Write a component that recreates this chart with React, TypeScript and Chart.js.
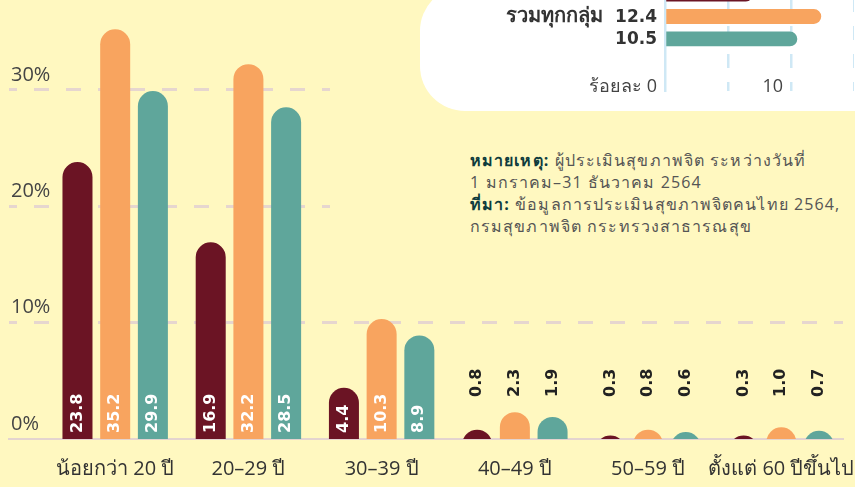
import { useEffect, useRef } from 'react';
import { Chart, registerables } from 'chart.js';

Chart.register(...registerables);

// ---------- data ----------
const categories = ['น้อยกว่า 20 ปี', '20–29 ปี', '30–39 ปี', '40–49 ปี', '50–59 ปี', 'ตั้งแต่ 60 ปีขึ้นไป'];
const maroonValues = [23.8, 16.9, 4.4, 0.8, 0.3, 0.3];
const orangeValues = [35.2, 32.2, 10.3, 2.3, 0.8, 1.0];
const tealValues = [29.9, 28.5, 8.9, 1.9, 0.6, 0.7];
const yTickValues = [0, 10, 20, 30];

const summaryLabel = 'รวมทุกกลุ่ม';
const summaryValues = [7.0, 12.4, 10.5];
const summaryTickValues = [0, 5, 10, 15];
const summaryTickLabels: Record<number, string> = { 0: 'ร้อยละ 0', 10: '10' };

// ---------- style ----------
const BG = '#fff8c0';
const MAROON = '#6b1424';
const ORANGE = '#f8a45f';
const TEAL = '#5fa69b';
const FAMILY = "'Open Sans', 'Noto Sans', sans-serif";
const LABEL_FAMILY = "'DejaVu Sans', 'Noto Sans', sans-serif";

const barLabelPlugin = {
  id: 'barLabels',
  afterDatasetsDraw(chart: any) {
    const ctx = chart.ctx;
    const zero = chart.scales.y.getPixelForValue(0);
    ctx.save();
    ctx.font = `bold 16px ${LABEL_FAMILY}`;
    ctx.textAlign = 'left';
    ctx.textBaseline = 'middle';
    chart.data.datasets.forEach((ds: any, di: number) => {
      const meta = chart.getDatasetMeta(di);
      meta.data.forEach((bar: any, i: number) => {
        const v = ds.data[i].y as number;
        const inside = v >= 4;
        const start = inside ? zero - 6 : zero - 42;
        ctx.save();
        ctx.translate(bar.x, start);
        ctx.rotate(-Math.PI / 2);
        ctx.fillStyle = inside ? '#ffffff' : '#222222';
        ctx.fillText(v.toFixed(1), 0, 0);
        ctx.restore();
      });
    });
    ctx.restore();
  },
};

const summaryValuePlugin = {
  id: 'summaryValues',
  afterDatasetsDraw(chart: any) {
    const ctx = chart.ctx;
    const left = chart.chartArea.left;
    ctx.save();
    ctx.font = `bold 17px ${LABEL_FAMILY}`;
    ctx.textAlign = 'right';
    ctx.textBaseline = 'middle';
    ctx.fillStyle = '#333333';
    chart.data.datasets.forEach((ds: any, di: number) => {
      const meta = chart.getDatasetMeta(di);
      meta.data.forEach((bar: any, i: number) => {
        ctx.fillText((ds.data[i] as number).toFixed(1), left - 8, bar.y + 1);
      });
    });
    ctx.restore();
  },
};

function MainChart() {
  const ref = useRef<HTMLCanvasElement>(null);
  useEffect(() => {
    if (!ref.current) return;
    const mk = (label: string, values: number[], color: string) => ({
      label,
      data: values.map((v, i) => ({ x: i, y: v })),
      backgroundColor: color,
      borderRadius: 15,
      borderSkipped: 'start',
      base: -3,
      clip: 0,
      categoryPercentage: 0.849,
      barPercentage: 0.796,
    });
    const chart = new Chart(ref.current, {
      type: 'bar',
      data: {
        datasets: [
          mk('กลุ่ม 1', maroonValues, MAROON),
          mk('กลุ่ม 2', orangeValues, ORANGE),
          mk('กลุ่ม 3', tealValues, TEAL),
        ] as any,
      },
      options: {
        responsive: false,
        animation: false,
        layout: { padding: { left: 9, right: 57, top: 20, bottom: 0 } },
        plugins: { legend: { display: false }, tooltip: { enabled: false } },
        scales: {
          x: {
            type: 'linear',
            offset: false,
            min: -0.797,
            max: 5.463,
            afterBuildTicks: (s: any) => {
              s.ticks = categories.map((_, i) => ({ value: i }));
            },
            afterFit: (s: any) => {
              s.height = 48;
            },
            grid: { display: false, offset: false },
            border: { display: true, color: '#e4d4cf', width: 2 },
            ticks: {
              autoSkip: false,
              maxRotation: 0,
              minRotation: 0,
              padding: 10,
              color: '#333333',
              font: { family: FAMILY, size: 20 },
              callback: (v: any) => categories[v] ?? '',
            },
          },
          y: {
            min: 0,
            max: 36,
            afterBuildTicks: (s: any) => {
              s.ticks = yTickValues.map((v) => ({ value: v }));
            },
            afterFit: (s: any) => {
              s.width = 0;
            },
            grid: {
              color: (c: any) => (c.tick && c.tick.value === 0 ? 'rgba(0,0,0,0)' : '#e6d6cf'),
              lineWidth: 3,
              drawTicks: false,
            },
            border: { display: false, dash: [15, 17], dashOffset: 7 },
            ticks: {
              mirror: true,
              padding: 2,
              labelOffset: -15,
              color: '#444444',
              font: { family: FAMILY, size: 20 },
              callback: (v: any) => `${v}%`,
            },
          },
        },
      } as any,
      plugins: [barLabelPlugin],
    });
    return () => chart.destroy();
  }, []);
  return (
    <canvas
      ref={ref}
      width={900}
      height={487}
      style={{ position: 'absolute', left: 0, top: 0, width: 900, height: 487 }}
    />
  );
}

function SummaryChart() {
  const ref = useRef<HTMLCanvasElement>(null);
  useEffect(() => {
    if (!ref.current) return;
    const colors = [MAROON, ORANGE, TEAL];
    const chart = new Chart(ref.current, {
      type: 'bar',
      data: {
        labels: [summaryLabel],
        datasets: summaryValues.map((v, i) => ({
          label: `กลุ่ม ${i + 1}`,
          data: [v],
          backgroundColor: colors[i],
          borderRadius: 8,
          borderSkipped: 'start',
          categoryPercentage: 0.452,
          barPercentage: 0.659,
        })) as any,
      },
      options: {
        indexAxis: 'y',
        responsive: false,
        animation: false,
        layout: { padding: { top: 22, bottom: 2, left: 0, right: 0 } },
        plugins: { legend: { display: false }, tooltip: { enabled: false } },
        scales: {
          x: {
            min: 0,
            max: 15,
            afterBuildTicks: (s: any) => {
              s.ticks = summaryTickValues.map((v) => ({ value: v }));
            },
            afterFit: (s: any) => {
              s.height = 10;
            },
            grid: {
              color: (c: any) => (c.tick && c.tick.value === 0 ? 'rgba(0,0,0,0)' : '#cfe8f5'),
              lineWidth: 2.5,
              drawTicks: false,
            },
            border: { display: false, dash: [14, 14] },
            ticks: {
              mirror: true,
              align: 'end',
              labelOffset: -8,
              padding: -7,
              autoSkip: false,
              maxRotation: 0,
              color: '#444444',
              font: { family: FAMILY, size: 18 },
              callback: (v: any) => summaryTickLabels[v] ?? '',
            },
          },
          y: {
            afterFit: (s: any) => {
              s.width = 245;
            },
            grid: {
              display: true,
              drawOnChartArea: false,
              drawTicks: true,
              tickLength: 60,
              tickColor: 'rgba(0,0,0,0)',
              color: 'rgba(0,0,0,0)',
            },
            border: { display: true, color: '#cfe8f5', width: 2.5 },
            ticks: {
              padding: 2,
              color: '#333333',
              font: { family: FAMILY, size: 20, weight: 'bold' },
            },
          },
        },
      } as any,
      plugins: [summaryValuePlugin],
    });
    return () => chart.destroy();
  }, []);
  return (
    <canvas
      ref={ref}
      width={434}
      height={185}
      style={{ position: 'absolute', left: 420, top: -80, width: 434, height: 185 }}
    />
  );
}

export default function App() {
  const bold = { fontWeight: 700, color: '#0e3b3d' };
  return (
    <div
      style={{
        position: 'fixed',
        left: 0,
        top: 0,
        width: 855,
        height: 487,
        overflow: 'hidden',
        background: BG,
        fontFamily: FAMILY,
      }}
    >
      <MainChart />
      <div
        style={{
          position: 'absolute',
          left: 330,
          top: 0,
          width: 525,
          height: 250,
          background: BG,
        }}
      >
        <div
          style={{
            position: 'absolute',
            left: 140,
            top: 149,
            fontSize: 16,
            lineHeight: '22px',
            color: '#555555',
            whiteSpace: 'nowrap',
            letterSpacing: 1.1,
          }}
        >
          <span style={bold}>หมายเหตุ:</span> ผู้ประเมินสุขภาพจิต ระหว่างวันที่
          <br />1 มกราคม–31 ธันวาคม 2564
          <br />
          <span style={bold}>ที่มา:</span> ข้อมูลการประเมินสุขภาพจิตคนไทย 2564,
          <br />กรมสุขภาพจิต กระทรวงสาธารณสุข
        </div>
      </div>
      <div
        style={{
          position: 'absolute',
          left: 420,
          top: -14,
          width: 500,
          height: 125,
          background: '#ffffff',
          borderRadius: 45,
        }}
      />
      <SummaryChart />
    </div>
  );
}
